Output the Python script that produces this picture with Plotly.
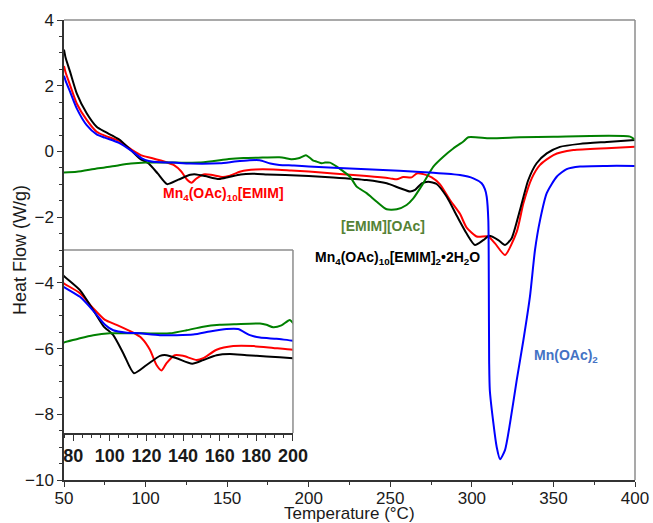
import plotly.graph_objects as go

# ---------------- data ----------------
black_T = [50, 51, 53.7, 57.8, 63.9, 70, 75, 83.7, 91, 96.5, 101.9, 107.4, 113.2, 120.1, 127.4, 131,
           136.5, 145, 151, 158.3, 165.5, 174.6, 185.5, 200, 215, 235.5, 247.8, 256, 262.1, 265.2,
           269.3, 273.3, 278.4, 284.6, 290.7, 296.8, 301.9, 307, 310.6, 316.2, 320.3, 324.4, 329.5,
           334.6, 339.7, 345.9, 354, 366.3, 382.7, 400]
black_V = [3.1, 2.85, 2.43, 1.77, 1.16, 0.75, 0.6, 0.37, 0.04, -0.22, -0.37, -0.67, -0.995, -0.86,
           -0.71, -0.70, -0.75, -0.84, -0.78, -0.70, -0.68, -0.70, -0.72, -0.75, -0.79, -0.87, -0.97,
           -1.12, -1.22, -1.17, -0.97, -0.92, -0.99, -1.38, -1.95, -2.5, -2.85, -2.7, -2.57, -2.7,
           -2.85, -2.64, -1.78, -0.87, -0.36, -0.06, 0.14, 0.23, 0.29, 0.35]

red_T = [50, 51, 53.7, 57.8, 63.9, 70, 75, 83.7, 91, 97.4, 103.7, 112.8, 117.4, 121.9, 125.5, 128.3,
         131, 135.5, 140, 147.4, 151, 158.3, 167.4, 178.3, 189.2, 200, 215, 235.5, 249.8, 254, 258,
         263.1, 266.2, 270.2, 275.4, 280.5, 286.6, 292.7, 296.8, 302.9, 310.1, 314.2, 320.3, 327.5,
         331.6, 336.7, 341.8, 350, 362.2, 382.7, 400]
red_V = [2.6, 2.4, 2.02, 1.46, 0.96, 0.60, 0.48, 0.32, 0.07, -0.12, -0.20, -0.33, -0.42, -0.61, -0.86,
         -0.95, -0.83, -0.70, -0.71, -0.78, -0.75, -0.61, -0.55, -0.55, -0.58, -0.61, -0.67, -0.75,
         -0.82, -0.85, -0.78, -0.79, -0.67, -0.69, -0.79, -1.0, -1.48, -1.9, -2.32, -2.59, -2.59,
         -2.80, -3.15, -2.45, -1.58, -0.82, -0.41, -0.11, 0.04, 0.10, 0.14]

blue_T = [50, 51, 53.7, 57.8, 63.9, 70, 75, 83.7, 91, 97.4, 101.9, 109.2, 116.5, 127.4, 145.5, 154.6,
          163.7, 170, 176.5, 182, 191, 200, 235.5, 276.4, 292.7, 300.9, 306, 308, 309.1, 310.1, 310.4,
          310.6, 311, 313.2, 315.2, 317.3, 320.3, 323.4, 327.5, 331.6, 335.6, 338.7, 341.8, 345.9,
          352, 358.1, 366.3, 382.7, 400]
blue_V = [2.3, 2.15, 1.82, 1.31, 0.80, 0.52, 0.42, 0.26, 0.03, -0.20, -0.29, -0.33, -0.34, -0.37,
          -0.36, -0.31, -0.27, -0.27, -0.37, -0.41, -0.43, -0.46, -0.54, -0.65, -0.72, -0.82, -0.97,
          -1.15, -1.38, -2.1, -4.0, -6.4, -7.26, -8.27, -8.99, -9.37, -9.09, -8.27, -6.96, -5.74,
          -4.42, -3.0, -2.09, -1.27, -0.77, -0.54, -0.46, -0.44, -0.44]

green_T = [50, 57.8, 70, 75, 83.7, 91, 100, 118.3, 132.8, 141.9, 151, 160, 169, 182, 185.5, 189.2,
           193.7, 198.3, 200.8, 202.8, 204.9, 208, 210, 213, 217.2, 220.2, 225.3, 229.4, 235.5, 241.7,
           247.8, 254, 260, 264.1, 270.2, 276.4, 282.5, 288.6, 294.8, 297.8, 311, 329.5, 350, 397, 400]
green_V = [-0.64, -0.62, -0.52, -0.49, -0.42, -0.37, -0.34, -0.34, -0.34, -0.29, -0.23, -0.20, -0.19,
           -0.18, -0.20, -0.24, -0.21, -0.12, -0.2, -0.28, -0.31, -0.36, -0.34, -0.34, -0.46, -0.57,
           -0.77, -1.07, -1.27, -1.53, -1.76, -1.76, -1.63, -1.43, -0.97, -0.46, -0.16, 0.09, 0.30,
           0.43, 0.40, 0.43, 0.45, 0.45, 0.35]

series = [
    ("Mn4(OAc)10[EMIM]", red_T, red_V, "#ff0000"),
    ("Mn4(OAc)10[EMIM]2·2H2O", black_T, black_V, "#000000"),
    ("[EMIM][OAc]", green_T, green_V, "#008000"),
    ("Mn(OAc)2", blue_T, blue_V, "#0000ff"),
]

labels = [
    ("Mn<sub>4</sub>(OAc)<sub>10</sub>[EMIM]", 148, -1.3, "#ff0000"),
    ("[EMIM][OAc]", 245.5, -2.27, "#548235"),
    ("Mn<sub>4</sub>(OAc)<sub>10</sub>[EMIM]<sub>2</sub>•2H<sub>2</sub>O", 254.7, -3.24, "#000000"),
    ("Mn(OAc)<sub>2</sub>", 357.7, -6.23, "#4472c4"),
]

FONT = "Arial, 'Liberation Sans', sans-serif"

fig = go.Figure()
for axx, axy in (("x", "y"), ("x2", "y2")):
    for name, T, V, c in series:
        fig.add_trace(go.Scatter(x=T, y=V, mode="lines", name=name,
                                 line=dict(color=c, width=2, shape="spline", smoothing=0.6),
                                 xaxis=axx, yaxis=axy))

for txt, x, y, c in labels:
    fig.add_annotation(x=x, y=y, xref="x", yref="y", text="<b>" + txt + "</b>",
                       showarrow=False, font=dict(family=FONT, size=14, color=c))

# axis titles placed as text
fig.add_annotation(x=-0.077, y=0.5, xref="paper", yref="paper", text="Heat Flow (W/g)",
                   textangle=-90, showarrow=False, xanchor="center", yanchor="middle",
                   font=dict(family=FONT, size=18, color="#1a1a1a"))
fig.add_annotation(x=0.5, y=-0.072, xref="paper", yref="paper", text="Temperature (°C)",
                   showarrow=False, xanchor="center", yanchor="middle",
                   font=dict(family=FONT, size=17, color="#1a1a1a"))

gray = "#8c8c8c"
INX, INY0, INY1 = 0.401, 0.102, 0.5
shapes = [
    dict(type="line", xref="paper", yref="paper", x0=0, x1=1, y0=1, y1=1, line=dict(color=gray, width=1.5)),
    dict(type="line", xref="paper", yref="paper", x0=1, x1=1, y0=0, y1=1, line=dict(color=gray, width=1.5)),
    dict(type="line", xref="paper", yref="paper", x0=0, x1=INX, y0=INY1, y1=INY1, line=dict(color=gray, width=1.5)),
    dict(type="line", xref="paper", yref="paper", x0=INX, x1=INX, y0=INY0, y1=INY1, line=dict(color=gray, width=1.5)),
]

fig.update_layout(
    width=653, height=523,
    margin=dict(l=64, r=18, t=20, b=43, autoexpand=False),
    paper_bgcolor="white", plot_bgcolor="white",
    showlegend=False,
    font=dict(family=FONT, size=17, color="#1a1a1a"),
    shapes=shapes,
    xaxis=dict(domain=[0, 1], range=[50, 400], dtick=50, tick0=0, showgrid=False, zeroline=False,
               automargin=False, ticklabelstandoff=-3,
               showline=True, linecolor="#333", linewidth=1.5, ticks="outside", ticklen=5,
               tickcolor="#333",
               minor=dict(ticks="outside", ticklen=3, dtick=25, tickcolor="#333")),
    yaxis=dict(domain=[0, 1], range=[-10, 4], dtick=2, tick0=0, showgrid=False, zeroline=False,
               automargin=False,
               showline=True, linecolor="#333", linewidth=1.5, ticks="outside", ticklen=5,
               tickcolor="#333",
               minor=dict(ticks="outside", ticklen=3, dtick=0.5, tickcolor="#333")),
    xaxis2=dict(domain=[0, INX], anchor="y2", range=[75, 200], dtick=20, tick0=0, showgrid=False,
                automargin=False,
                zeroline=False, showline=True, linecolor="#333", linewidth=1.5, ticks="outside",
                ticklen=6, tickcolor="#333",
                tickfont=dict(size=18, family=FONT, weight="bold"),
                minor=dict(ticks="outside", ticklen=3, dtick=5, tickcolor="#333")),
    yaxis2=dict(domain=[INY0, INY1], anchor="x2", range=[-1.98, 1.03], showgrid=False,
                automargin=False,
                zeroline=False, showline=False, showticklabels=False, ticks=""),
)

fig.write_html("out.html", config={"displayModeBar": False},
               post_script="document.body.style.margin='0';document.body.style.overflow='hidden';")
